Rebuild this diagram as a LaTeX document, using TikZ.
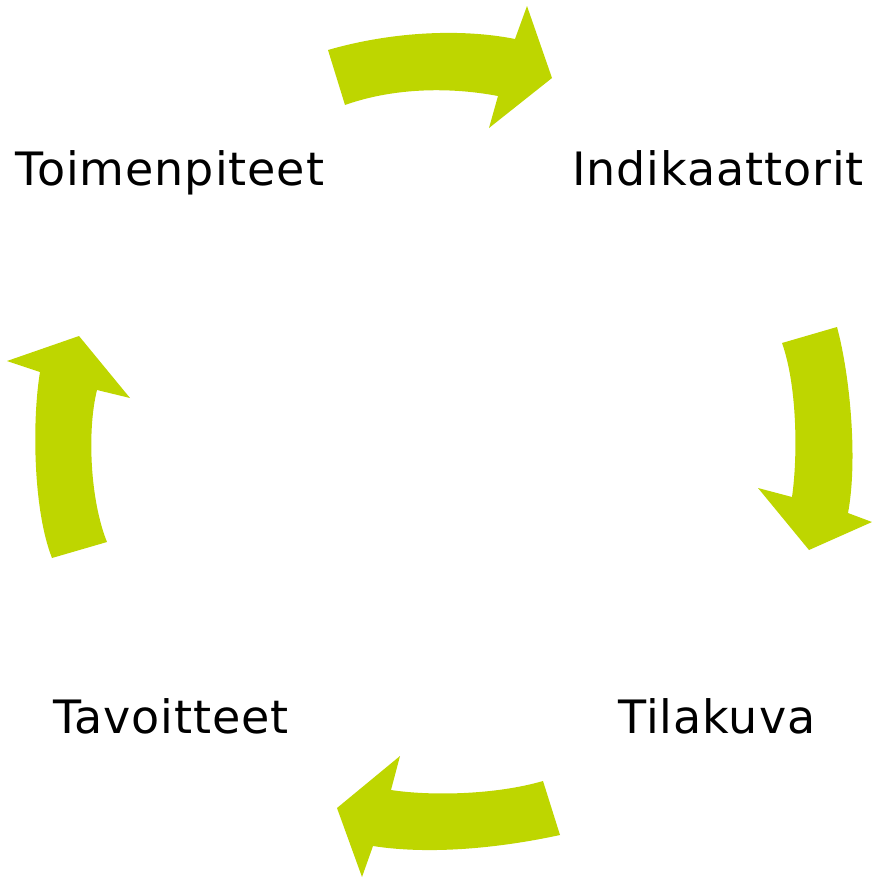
\documentclass[tikz,border=0pt]{standalone}
\usepackage{fontspec}
\setmainfont{DejaVu Sans}[LetterSpace=2]
\definecolor{lime}{RGB}{190,214,0}
\begin{document}
\begin{tikzpicture}[x=1pt,y=-1pt,
  cyclearrow/.style={fill=lime,draw=none},
  label/.style={anchor=base,inner sep=0pt,font=\fontsize{46}{50}\selectfont,text=black}]
\useasboundingbox (0,0) rectangle (872,878);
% top arrow
\fill[cyclearrow] (328,50) .. controls (390,32) and (460,28) .. (515,39)
  -- (527,6) -- (552,78) -- (489,128) -- (498,96)
  .. controls (445,86) and (390,89) .. (345,105) -- cycle;
% right arrow
\fill[cyclearrow] (782,343) -- (837,327) .. controls (850,375) and (858,460) .. (848,513)
  -- (872,522) -- (809,550) -- (758,488) -- (792,497)
  .. controls (798,455) and (797,385) .. (782,343) -- cycle;
% bottom arrow
\fill[cyclearrow] (543,781) -- (560,835) .. controls (500,848) and (430,855) .. (373,846)
  -- (362,877) -- (337,808) -- (400,756) -- (391,790)
  .. controls (430,796) and (495,795) .. (543,781) -- cycle;
% left arrow
\fill[cyclearrow] (52,558) -- (107,542) .. controls (90,500) and (87,430) .. (97,390)
  -- (130,398) -- (79,336) -- (7,361) -- (40,372)
  .. controls (32,420) and (33,510) .. (52,558) -- cycle;
\node[label] (toim) at (170,185) {Toimenpiteet};
\node[label] (indi) at (718,185) {Indikaattorit};
\node[label] (tavo) at (171,733) {Tavoitteet};
\node[label] (tila) at (717,733) {Tilakuva};
\end{tikzpicture}
\end{document}
